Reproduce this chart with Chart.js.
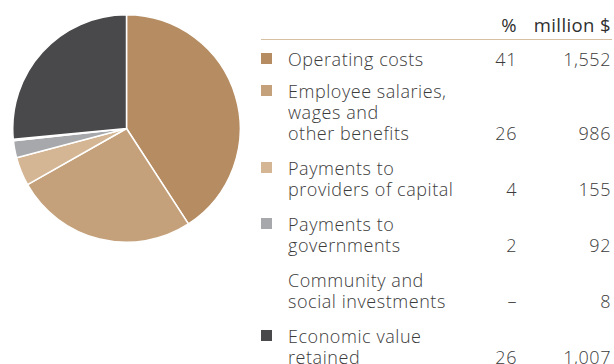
<!DOCTYPE html>
<html>
<head>
<meta charset="utf-8">
<script src="https://cdn.jsdelivr.net/npm/chart.js@4/dist/chart.umd.min.js"></script>
<style>
  html, body { margin: 0; padding: 0; background: #fff; width: 614px; height: 364px; overflow: hidden; }
  body { position: relative; font-family: "Open Sans", "Liberation Sans", Arial, sans-serif; }
  #pieBox { position: absolute; left: 12px; top: 14px; width: 229px; height: 229px; }
  #table { position: absolute; left: 261px; top: 0; width: 351px; color: #3b3b3b; font-size: 18px; font-weight: 300; line-height: 21px; letter-spacing: 0.55px; }
  .head { position: relative; height: 39px; border-bottom: 1px solid #d6bfa3; font-weight: 400; color: #2f2f2f; font-size: 18.5px; letter-spacing: 0.4px; }
  .head span { position: absolute; top: 14px; }
  .row { position: relative; }
  .sw { position: absolute; left: 0; top: 4px; width: 11px; height: 11px; }
  .lbl { margin-left: 27px; }
  .pct { position: absolute; right: 95px; bottom: 0; }
  .val { position: absolute; right: 1px; bottom: 0; }
</style>
</head>
<body>
<div id="pieBox"><canvas id="pie"></canvas></div>
<div id="table"></div>
<script>
// Distribution of economic value (million $)
const categories = [
  ["Operating costs"],
  ["Employee salaries,", "wages and", "other benefits"],
  ["Payments to", "providers of capital"],
  ["Payments to", "governments"],
  ["Community and", "social investments"],
  ["Economic value", "retained"]
];
const amounts = [1552, 986, 155, 92, 8, 1007];
const amountLabels = ["1,552", "986", "155", "92", "8", "1,007"];
const percentLabels = ["41", "26", "4", "2", "\u2013", "26"];
const colors = ["#b68d62", "#c4a17b", "#d4b694", "#a7a8ab", "#d9d9d9", "#49494b"];
const showSwatch = [true, true, true, true, false, true];

// Table-style legend on the right
const table = document.getElementById("table");
const head = document.createElement("div");
head.className = "head";
head.innerHTML = '<span style="right:95px">%</span><span style="right:1px">million $</span>';
table.appendChild(head);

const gaps = [9, 11, 14, 14, 14, 14];
categories.forEach((lines, i) => {
  const row = document.createElement("div");
  row.className = "row";
  row.style.marginTop = gaps[i] + "px";
  if (showSwatch[i]) {
    const sw = document.createElement("div");
    sw.className = "sw";
    sw.style.background = colors[i];
    row.appendChild(sw);
  }
  const lbl = document.createElement("div");
  lbl.className = "lbl";
  lines.forEach(t => {
    const d = document.createElement("div");
    d.textContent = t;
    lbl.appendChild(d);
  });
  row.appendChild(lbl);
  const p = document.createElement("div");
  p.className = "pct";
  p.textContent = percentLabels[i];
  row.appendChild(p);
  const v = document.createElement("div");
  v.className = "val";
  v.textContent = amountLabels[i];
  row.appendChild(v);
  table.appendChild(row);
});

// Pie
new Chart(document.getElementById("pie"), {
  type: "pie",
  data: {
    labels: categories.map(l => l.join(" ")),
    datasets: [{
      data: amounts,
      backgroundColor: colors,
      borderColor: "#ffffff",
      borderWidth: 1.5
    }]
  },
  options: {
    responsive: true,
    maintainAspectRatio: false,
    animation: false,
    layout: { padding: 0 },
    plugins: { legend: { display: false }, tooltip: { enabled: false } }
  }
});
</script>
</body>
</html>
